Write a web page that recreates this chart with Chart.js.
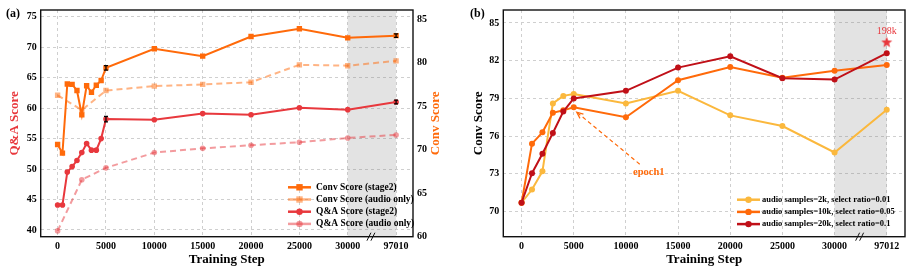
<!DOCTYPE html>
<html>
<head>
<meta charset="utf-8">
<script src="https://cdn.jsdelivr.net/npm/chart.js@4.4.0/dist/chart.umd.min.js"></script>
<style>
  body { margin: 0; background: #fff; }
  #wrapA, #wrapB { position: absolute; top: 0; width: 456px; height: 271px; }
  #wrapA { left: 0; }
  #wrapB { left: 456px; }
</style>
</head>
<body>
<div id="wrapA"><canvas id="chartA" width="456" height="271"></canvas></div>
<div id="wrapB"><canvas id="chartB" width="456" height="271"></canvas></div>
<script>
// ---- data: panel (a) ----
const stepsA = [0, 500, 1000, 1500, 2000, 2500, 3000, 3500, 4000, 4500, 5000, 10000, 15000, 20000, 25000, 30000, 97010];
const convStage2 = [70.6, 69.6, 77.55, 77.5, 76.8, 74.0, 77.35, 76.6, 77.4, 77.95, 79.4, 81.6, 80.75, 83.0, 83.9, 82.85, 83.1];
const convStage2Err = [null, null, null, null, null, null, null, null, null, null, 0.25, null, null, null, null, null, 0.2];
const qaStage2 = [44.1, 44.1, 49.5, 50.4, 51.4, 52.7, 54.2, 53.1, 53.1, 55.0, 58.2, 58.1, 59.1, 58.9, 60.05, 59.75, 61.0];
const qaStage2Err = [null, null, null, null, null, null, null, null, null, null, 0.45, null, null, null, null, null, 0.3];
const stepsAudioA = [0, 2500, 5000, 10000, 15000, 20000, 25000, 30000, 97010];
const convAudio = [76.25, 74.55, 76.8, 77.3, 77.5, 77.75, 79.75, 79.65, 80.2];
const qaAudio = [39.85, 48.25, 50.2, 52.7, 53.4, 53.9, 54.4, 55.1, 55.6];

// ---- data: panel (b) ----
const stepsB = [0, 1000, 2000, 3000, 4000, 5000, 10000, 15000, 20000, 25000, 30000, 97012];
const samples2k = [70.7, 71.75, 73.2, 78.6, 79.2, 79.35, 78.6, 79.6, 77.65, 76.8, 74.7, 78.1];
const samples10k = [70.7, 75.4, 76.3, 77.85, 78.05, 78.3, 77.5, 80.45, 81.5, 80.65, 81.2, 81.65];
const samples20k = [70.7, 73.05, 74.6, 76.25, 77.95, 79.0, 79.6, 81.45, 82.35, 80.6, 80.5, 82.6];
const bestStep = 97012, bestScore = 83.45, bestLabel = '198k';

// ---- ticks ----
const xTickVals = [0, 5000, 10000, 15000, 20000, 25000, 30000, 35000];
const xTickLabelsA = ['0', '5000', '10000', '15000', '20000', '25000', '30000', '97010'];
const xTickLabelsB = ['0', '5000', '10000', '15000', '20000', '25000', '30000', '97012'];
const qaTicks = [40, 45, 50, 55, 60, 65, 70, 75];
const convTicksA = [60, 65, 70, 75, 80, 85];
const convTicksB = [70, 73, 76, 79, 82, 85];

// steps past 30000 sit on the broken part of the axis
const breakAt = 30000, breakPos = 35000;
const xPos = s => (s > breakAt ? breakPos : s);
const pts = (xs, ys) => xs.map((s, i) => ({ x: xPos(s), y: ys[i] }));

const SERIF = "'Liberation Serif', 'DejaVu Serif', serif";
Chart.defaults.font.family = SERIF;
Chart.defaults.font.weight = 'bold';
Chart.defaults.color = '#000';

const ORANGE = '#ff6a0a', ORANGE_L = 'rgba(255,106,10,0.5)';
const RED = '#e8383d', RED_L = 'rgba(232,56,61,0.5)';
const YELLOW = '#fbb83d', DARKRED = '#c01018';

const gridCol = '#cfcfcf';
function xScale(labels, height) {
  return {
    type: 'linear', min: -1750, max: 36750,
    afterBuildTicks: s => { s.ticks = xTickVals.map(v => ({ value: v })); },
    afterFit: s => { s.height = height; },
    ticks: { callback: (v, i) => labels[i], font: { size: 10, weight: 'bold' }, padding: 4, autoSkip: false, maxRotation: 0 },
    grid: { color: gridCol, drawTicks: false },
    border: { display: false, dash: [3, 3] },
    title: { display: true, text: 'Training Step', font: { size: 13, weight: 'bold' }, padding: { top: 0, bottom: 4 } }
  };
}

// gray band, frame, axis break
const bandPlugin = {
  id: 'band',
  beforeDatasetsDraw(chart) {
    const { ctx, chartArea: a, scales: { x } } = chart;
    const x0 = x.getPixelForValue(breakAt), x1 = x.getPixelForValue(breakPos);
    ctx.save();
    ctx.fillStyle = 'rgba(128,128,128,0.22)';
    ctx.fillRect(x0, a.top, x1 - x0, a.bottom - a.top);
    ctx.restore();
  },
  afterDraw(chart) {
    const { ctx, chartArea: a, scales: { x } } = chart;
    ctx.save();
    ctx.strokeStyle = '#111';
    ctx.lineWidth = 1.4;
    ctx.strokeRect(a.left, a.top, a.right - a.left, a.bottom - a.top);
    // "//" break mark
    const bx = x.getPixelForValue(32400);
    ctx.lineWidth = 1;
    [-2, 2].forEach(d => {
      ctx.beginPath();
      ctx.moveTo(bx + d - 2, a.bottom + 4);
      ctx.lineTo(bx + d + 2, a.bottom - 4);
      ctx.stroke();
    });
    ctx.restore();
  }
};

const errPlugin = {
  id: 'errbars',
  afterDatasetsDraw(chart) {
    const { ctx } = chart;
    ctx.save();
    ctx.strokeStyle = '#000';
    ctx.lineWidth = 1.2;
    chart.data.datasets.forEach(ds => {
      if (!ds.err) return;
      const ys = chart.scales[ds.yAxisID];
      const xs = chart.scales.x;
      ds.data.forEach((p, i) => {
        const e = ds.err[i];
        if (e == null) return;
        const px = xs.getPixelForValue(p.x);
        const y0 = ys.getPixelForValue(p.y - e), y1 = ys.getPixelForValue(p.y + e);
        ctx.beginPath();
        ctx.moveTo(px, y0); ctx.lineTo(px, y1);
        ctx.moveTo(px - 2, y0); ctx.lineTo(px + 2, y0);
        ctx.moveTo(px - 2, y1); ctx.lineTo(px + 2, y1);
        ctx.stroke();
      });
    });
    ctx.restore();
  }
};

function legendPlugin(x0, y0, gap, fontSize, textOff) {
  return {
    id: 'boxlegend',
    afterDraw(chart) {
      const { ctx } = chart;
      ctx.save();
      ctx.font = 'bold ' + fontSize + 'px ' + SERIF;
      ctx.textBaseline = 'middle';
      let row = 0;
      chart.data.datasets.forEach(ds => {
        if (!ds.inLegend) return;
        const y = y0 + row * gap;
        ctx.strokeStyle = ds.borderColor;
        ctx.lineWidth = 2.5;
        ctx.beginPath();
        ctx.moveTo(x0, y); ctx.lineTo(x0 + 23, y);
        ctx.stroke();
        ctx.fillStyle = ds.pointBackgroundColor;
        ctx.beginPath();
        if (ds.pointStyle === 'rect') ctx.rect(x0 + 8.3, y - 3.2, 6.4, 6.4);
        else ctx.arc(x0 + 11.5, y, 3.2, 0, Math.PI * 2);
        ctx.fill();
        ctx.fillStyle = '#000';
        ctx.fillText(ds.label, x0 + textOff, y);
        row++;
      });
      ctx.restore();
    }
  };
}

function panelLabel(text, x) {
  return {
    id: 'panelLabel',
    afterDraw(chart) {
      const { ctx } = chart;
      ctx.save();
      ctx.font = 'bold 12px ' + SERIF;
      ctx.textBaseline = 'middle';
      ctx.fillStyle = '#000';
      ctx.fillText(text, x, 14);
      ctx.restore();
    }
  };
}

// right axis title reads bottom-to-top, like matplotlib's twin axis
const rightTitle = {
  id: 'rightTitle',
  afterDraw(chart) {
    const { ctx, chartArea: a } = chart;
    ctx.save();
    ctx.translate(436, (a.top + a.bottom) / 2);
    ctx.rotate(-Math.PI / 2);
    ctx.font = 'bold 13px ' + SERIF;
    ctx.fillStyle = ORANGE;
    ctx.textAlign = 'center';
    ctx.textBaseline = 'middle';
    ctx.fillText('Conv Score', 0, 0);
    ctx.restore();
  }
};

// ---- panel (a) ----
new Chart(document.getElementById('chartA'), {
  type: 'line',
  data: {
    datasets: [
      { label: 'Conv Score (stage2)', data: pts(stepsA, convStage2), err: convStage2Err, yAxisID: 'y1',
        borderColor: ORANGE, backgroundColor: ORANGE, pointBackgroundColor: ORANGE, pointBorderWidth: 0,
        pointStyle: 'rect', pointRadius: 3.8, borderWidth: 2, inLegend: true },
      { label: 'Conv Score (audio only)', data: pts(stepsAudioA, convAudio), yAxisID: 'y1',
        borderColor: ORANGE_L, backgroundColor: ORANGE_L, pointBackgroundColor: ORANGE_L, pointBorderWidth: 0,
        pointStyle: 'rect', pointRadius: 3.8, borderWidth: 2, borderDash: [6, 4], inLegend: true },
      { label: 'Q&A Score (stage2)', data: pts(stepsA, qaStage2), err: qaStage2Err, yAxisID: 'y',
        borderColor: RED, backgroundColor: RED, pointBackgroundColor: RED, pointBorderWidth: 0,
        pointStyle: 'circle', pointRadius: 2.8, borderWidth: 2, inLegend: true },
      { label: 'Q&A Score (audio only)', data: pts(stepsAudioA, qaAudio), yAxisID: 'y',
        borderColor: RED_L, backgroundColor: RED_L, pointBackgroundColor: RED_L, pointBorderWidth: 0,
        pointStyle: 'circle', pointRadius: 2.8, borderWidth: 2, borderDash: [6, 4], inLegend: true }
    ]
  },
  options: {
    responsive: false, animation: false,
    layout: { padding: { top: 7, left: 0, right: 0, bottom: 0 } },
    plugins: { legend: { display: false }, tooltip: { enabled: false } },
    scales: {
      x: xScale(xTickLabelsA, 34.3),
      y: {
        position: 'left', min: 38.9, max: 76.1,
        afterBuildTicks: s => { s.ticks = qaTicks.map(v => ({ value: v })); },
        afterFit: s => { s.width = 40.7; },
        ticks: { font: { size: 10, weight: 'bold' }, padding: 4 },
        grid: { color: gridCol, drawTicks: false },
        border: { display: false, dash: [3, 3] },
        title: { display: true, text: 'Q&A Score', color: RED, font: { size: 13, weight: 'bold' }, padding: { top: 7, bottom: 0 } }
      },
      y1: {
        position: 'right', min: 60, max: 86.05,
        afterBuildTicks: s => { s.ticks = convTicksA.map(v => ({ value: v })); },
        afterFit: s => { s.width = 43; },
        ticks: { font: { size: 10, weight: 'bold' }, padding: 4 },
        grid: { drawOnChartArea: false, drawTicks: false },
        border: { display: false }
      }
    }
  },
  plugins: [bandPlugin, errPlugin, rightTitle, legendPlugin(288, 187.3, 12.2, 9.5, 28), panelLabel('(a)', 6)]
});

// ---- panel (b) ----
function starImage(r, color) {
  const c = document.createElement('canvas');
  c.width = c.height = Math.ceil(r * 2 + 2);
  const g = c.getContext('2d');
  g.fillStyle = color;
  g.beginPath();
  for (let i = 0; i < 10; i++) {
    const ang = -Math.PI / 2 + i * Math.PI / 5;
    const rr = i % 2 ? r * 0.42 : r;
    g.lineTo(c.width / 2 + rr * Math.cos(ang), c.height / 2 + rr * Math.sin(ang));
  }
  g.closePath();
  g.fill();
  return c;
}

const epochPlugin = {
  id: 'epoch',
  afterDatasetsDraw(chart) {
    const { ctx } = chart;
    const p = chart.getDatasetMeta(1).data[5];
    const tx = p.x + 66, ty = p.y + 57, hx = p.x + 3, hy = p.y + 5;
    ctx.save();
    ctx.strokeStyle = ORANGE;
    ctx.lineWidth = 1.2;
    ctx.setLineDash([4, 3]);
    ctx.beginPath(); ctx.moveTo(tx, ty); ctx.lineTo(hx, hy); ctx.stroke();
    ctx.setLineDash([]);
    const ang = Math.atan2(ty - hy, tx - hx);
    ctx.beginPath();
    ctx.moveTo(hx + 7 * Math.cos(ang - 0.4), hy + 7 * Math.sin(ang - 0.4));
    ctx.lineTo(hx, hy);
    ctx.lineTo(hx + 7 * Math.cos(ang + 0.4), hy + 7 * Math.sin(ang + 0.4));
    ctx.stroke();
    ctx.fillStyle = ORANGE;
    ctx.font = 'bold 10.5px ' + SERIF;
    ctx.textAlign = 'center';
    ctx.textBaseline = 'middle';
    ctx.fillText('epoch1', p.x + 75, p.y + 65);
    // best-checkpoint label
    const s = chart.getDatasetMeta(3).data[0];
    ctx.fillStyle = RED;
    ctx.font = '10px ' + SERIF;
    ctx.fillText(bestLabel, s.x, s.y - 11.5);
    ctx.restore();
  }
};

new Chart(document.getElementById('chartB'), {
  type: 'line',
  data: {
    datasets: [
      { label: 'audio samples=2k, select ratio=0.01', data: pts(stepsB, samples2k),
        borderColor: YELLOW, backgroundColor: YELLOW, pointBackgroundColor: YELLOW, pointBorderWidth: 0,
        pointStyle: 'circle', pointRadius: 3, borderWidth: 2, inLegend: true, order: 3 },
      { label: 'audio samples=10k, select ratio=0.05', data: pts(stepsB, samples10k),
        borderColor: ORANGE, backgroundColor: ORANGE, pointBackgroundColor: ORANGE, pointBorderWidth: 0,
        pointStyle: 'circle', pointRadius: 3, borderWidth: 2, inLegend: true, order: 2 },
      { label: 'audio samples=20k, select ratio=0.1', data: pts(stepsB, samples20k),
        borderColor: DARKRED, backgroundColor: DARKRED, pointBackgroundColor: DARKRED, pointBorderWidth: 0,
        pointStyle: 'circle', pointRadius: 3, borderWidth: 2, inLegend: true, order: 1 },
      { label: 'best', data: [{ x: xPos(bestStep), y: bestScore }], showLine: false,
        pointStyle: starImage(5.8, RED), pointRadius: 6, order: 0 }
    ]
  },
  options: {
    responsive: false, animation: false,
    layout: { padding: { top: 7.3, left: 0, right: 6, bottom: 0 } },
    plugins: { legend: { display: false }, tooltip: { enabled: false } },
    scales: {
      x: xScale(xTickLabelsB, 34.3),
      y: {
        position: 'left', min: 68, max: 86.03,
        afterBuildTicks: s => { s.ticks = convTicksB.map(v => ({ value: v })); },
        afterFit: s => { s.width = 47.3; },
        ticks: { font: { size: 10, weight: 'bold' }, padding: 4 },
        grid: { color: gridCol, drawTicks: false },
        border: { display: false, dash: [3, 3] },
        title: { display: true, text: 'Conv Score', font: { size: 13, weight: 'bold' }, padding: { top: 15, bottom: 0 } }
      }
    }
  },
  plugins: [bandPlugin, epochPlugin, legendPlugin(281, 199.7, 12.2, 8.5, 25), panelLabel('(b)', 14)]
});
</script>
</body>
</html>
